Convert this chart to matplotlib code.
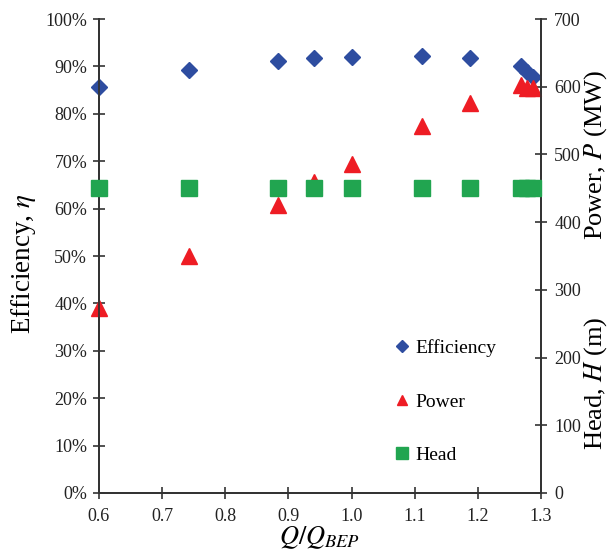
import matplotlib
matplotlib.use("Agg")
import matplotlib.pyplot as plt
from matplotlib.ticker import FuncFormatter, MultipleLocator

plt.rcParams["font.family"] = ["Liberation Serif", "DejaVu Serif"]
plt.rcParams["mathtext.fontset"] = "stix"

# Normalised discharge Q/Q_BEP
q_ratio = [0.600, 0.743, 0.883, 0.941, 1.000, 1.112, 1.188, 1.269, 1.278, 1.287]
# Efficiency (%)
efficiency = [85.6, 89.2, 91.1, 91.8, 92.0, 92.3, 91.8, 90.0, 88.9, 87.8]
# Power (MW)
power = [273, 350, 425, 460, 486, 542, 576, 603, 598, 598]
# Head (m)
head = [450, 450, 450, 450, 450, 450, 450, 450, 450, 450]

blue = "#2E4DA0"
red = "#EE1C24"
green = "#21A550"
axis_col = "#333333"

fig = plt.figure(figsize=(6.13, 5.53), dpi=100)
ax = fig.add_axes([0.1615, 0.1085, 0.721, 0.857])
ax2 = ax.twinx()

h_eff, = ax.plot(q_ratio, efficiency, linestyle="none", marker="D", ms=8.5,
                 color=blue, label="Efficiency", zorder=3, clip_on=False)
h_pow, = ax2.plot(q_ratio, power, linestyle="none", marker="^", ms=11,
                  color=red, label="Power", zorder=2, clip_on=False)
h_head, = ax2.plot(q_ratio, head, linestyle="none", marker="s", ms=12,
                   color=green, label="Head", zorder=3, clip_on=False)

ax.set_xlim(0.6, 1.3)
ax.set_ylim(0, 100)
ax2.set_ylim(0, 700)
ax.xaxis.set_major_locator(MultipleLocator(0.1))
ax.yaxis.set_major_locator(MultipleLocator(10))
ax2.yaxis.set_major_locator(MultipleLocator(100))
ax.xaxis.set_major_formatter(FuncFormatter(lambda v, p: f"{v:.1f}"))
ax.yaxis.set_major_formatter(FuncFormatter(lambda v, p: f"{v:.0f}%"))

for a in (ax, ax2):
    a.spines["top"].set_visible(False)
    for s in a.spines.values():
        s.set_color(axis_col)
        s.set_linewidth(1.3)
    a.tick_params(direction="inout", length=9, width=1.2, color=axis_col,
                  labelsize=13, labelcolor="#222222")
ax.tick_params(axis="x", pad=6)
ax.tick_params(axis="y", pad=4)
ax2.tick_params(axis="y", pad=5)

ax.set_xlabel(r"$Q/Q_{BEP}$", fontsize=19, labelpad=0)

fig.text(0.038, 1 - 264 / 553, r"Efficiency, $\eta$", rotation=90,
         ha="center", va="center", fontsize=19.5)
fig.text(0.972, 1 - 383 / 553, r"Head, $H$ (m)", rotation=90,
         ha="center", va="center", fontsize=19)
fig.text(0.972, 1 - 155 / 553, r"Power, $P$ (MW)", rotation=90,
         ha="center", va="center", fontsize=19)

ax.legend(handles=[h_eff, h_pow, h_head], loc="upper left",
          bbox_to_anchor=(0.645, 0.345), frameon=False, fontsize=14,
          labelspacing=1.85, handlelength=0.8, handletextpad=0.3,
          markerscale=0.7, borderpad=0)

fig.savefig("out.png", dpi=100)
